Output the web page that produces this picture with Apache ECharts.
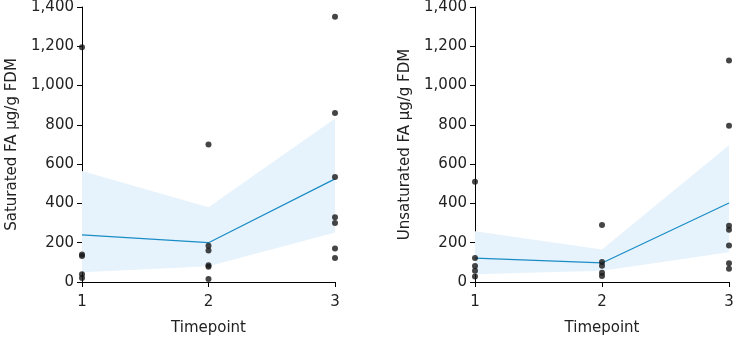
<!DOCTYPE html>
<html>
<head>
<meta charset="utf-8">
<script src="https://cdn.jsdelivr.net/npm/echarts@6/dist/echarts.min.js"></script>
<style>
  html, body { margin: 0; padding: 0; background: #fff; }
  #chart { width: 735px; height: 337px; }
</style>
</head>
<body>
<div id="chart"></div>
<script>
const timepoints = ["1", "2", "3"];

// saturated FA, ug/g FDM
const satPoints = [
  [0, 1195], [0, 140], [0, 132], [0, 40], [0, 20],
  [1, 700], [1, 185], [1, 160], [1, 85], [1, 78], [1, 15],
  [2, 1350], [2, 860], [2, 535], [2, 330], [2, 300], [2, 170], [2, 122]
];
const satMean = [240, 200, 525];
const satLower = [50, 80, 252];
const satUpper = [565, 380, 832];

// unsaturated FA, ug/g FDM
const unsatPoints = [
  [0, 510], [0, 122], [0, 82], [0, 57], [0, 28],
  [1, 290], [1, 102], [1, 83], [1, 47], [1, 30],
  [2, 1128], [2, 795], [2, 287], [2, 266], [2, 186], [2, 95], [2, 67]
];
const unsatMean = [122, 97, 402];
const unsatLower = [40, 57, 151];
const unsatUpper = [258, 166, 696];

const yTicks = { min: 0, max: 1400, interval: 200 };

const textColor = "#222";
const font = "DejaVu Sans, sans-serif";

function xAxisFor(i) {
  return {
    type: "category",
    gridIndex: i,
    data: timepoints,
    boundaryGap: false,
    name: "Timepoint",
    nameLocation: "middle",
    nameGap: 39,
    nameTextStyle: { fontSize: 15, color: textColor, fontFamily: font },
    axisLine: { lineStyle: { color: "#000", width: 1 } },
    axisTick: { show: true, length: 5, lineStyle: { color: "#000" } },
    axisLabel: { fontSize: 15, color: textColor, fontFamily: font, margin: 13 },
    splitLine: { show: false }
  };
}

function yAxisFor(i, name) {
  return {
    type: "value",
    gridIndex: i,
    min: yTicks.min,
    max: yTicks.max,
    interval: yTicks.interval,
    name: name,
    nameLocation: "middle",
    nameGap: 62,
    nameTextStyle: { fontSize: 15, color: textColor, fontFamily: font },
    axisLine: { show: true, lineStyle: { color: "#000", width: 1 } },
    axisTick: { show: true, length: 5, lineStyle: { color: "#000" } },
    axisLabel: {
      fontSize: 15, color: textColor, fontFamily: font, margin: 8,
      formatter: (v) => v.toLocaleString("en-US")
    },
    splitLine: { show: false }
  };
}

function seriesFor(i, points, mean, lower, upper) {
  const stack = "band" + i;
  return [
    {
      type: "line", xAxisIndex: i, yAxisIndex: i, stack: stack,
      data: lower, symbol: "none", lineStyle: { opacity: 0 },
      silent: true, z: 1
    },
    {
      type: "line", xAxisIndex: i, yAxisIndex: i, stack: stack,
      data: upper.map((u, k) => u - lower[k]), symbol: "none",
      lineStyle: { opacity: 0 }, areaStyle: { color: "#e7f3fc", opacity: 1 },
      silent: true, z: 1
    },
    {
      type: "line", xAxisIndex: i, yAxisIndex: i, data: mean,
      symbol: "none", lineStyle: { color: "#1a8cc6", width: 1.2 }, z: 2
    },
    {
      type: "scatter", xAxisIndex: i, yAxisIndex: i, data: points,
      symbolSize: 6, itemStyle: { color: "#161616" }, z: 3
    }
  ];
}

const chart = echarts.init(document.getElementById("chart"));
chart.setOption({
  animation: false,
  backgroundColor: "#fff",
  grid: [
    { left: 82, top: 7, width: 253, height: 275, outerBoundsMode: "none" },
    { left: 475, top: 7, width: 254, height: 275, outerBoundsMode: "none" }
  ],
  xAxis: [xAxisFor(0), xAxisFor(1)],
  yAxis: [
    yAxisFor(0, "Saturated FA \u00b5g/g FDM"),
    yAxisFor(1, "Unsaturated FA \u00b5g/g FDM")
  ],
  series: [
    ...seriesFor(0, satPoints, satMean, satLower, satUpper),
    ...seriesFor(1, unsatPoints, unsatMean, unsatLower, unsatUpper)
  ]
});
</script>
</body>
</html>
